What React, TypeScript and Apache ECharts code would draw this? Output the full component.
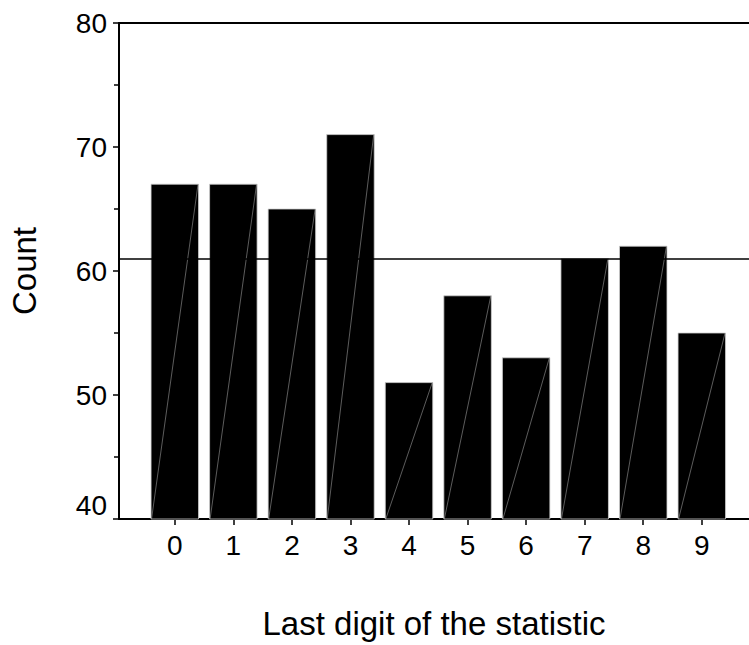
import React, { useEffect, useRef } from "react";
import * as echarts from "echarts";

const digits = [0, 1, 2, 3, 4, 5, 6, 7, 8, 9];
const counts = [67, 67, 65, 71, 51, 58, 53, 61, 62, 55];
const meanCount = 61;
const yTicks = [40, 50, 60, 70, 80];

const FONT = "'Liberation Sans', Arial, sans-serif";

export default function App() {
  const ref = useRef<HTMLDivElement>(null);
  useEffect(() => {
    document.body.style.margin = "0";
    const chart = echarts.init(ref.current!, null, { renderer: "svg" });
    const barW = 47.5;
    chart.setOption({
      animation: false,
      backgroundColor: "#fff",
      textStyle: { fontFamily: FONT, color: "#000" },
      grid: { left: 117, right: 0, top: 23, bottom: 125, containLabel: false },
      xAxis: [
        {
          type: "value",
          min: -0.953,
          max: 9.806,
          position: "bottom",
          name: "Last digit of the statistic",
          nameLocation: "middle",
          nameGap: 88,
          nameTextStyle: { fontSize: 33, color: "#000", fontFamily: FONT },
          axisLine: { show: true, onZero: false, lineStyle: { color: "#000", width: 2 } },
          axisTick: { show: true, length: 6, customValues: digits, lineStyle: { color: "#000", width: 1.5 } },
          axisLabel: {
            show: true,
            customValues: digits,
            fontSize: 28,
            color: "#000",
            margin: 12,
            fontFamily: FONT,
            formatter: (v: number) => String(v),
          },
          splitLine: { show: false },
        },
        {
          type: "value",
          min: -0.953,
          max: 9.806,
          position: "top",
          axisLine: { show: true, onZero: false, lineStyle: { color: "#000", width: 2 } },
          axisTick: { show: false },
          axisLabel: { show: false },
          splitLine: { show: false },
        },
      ],
      yAxis: {
        type: "value",
        min: yTicks[0],
        max: yTicks[yTicks.length - 1],
        interval: 10,
        position: "left",
        name: "Count",
        nameLocation: "middle",
        nameGap: 78,
        nameRotate: 90,
        nameTextStyle: { fontSize: 33, color: "#000", fontFamily: FONT },
        axisLine: { show: true, onZero: false, lineStyle: { color: "#000", width: 2 } },
        axisTick: { show: true, length: 6, lineStyle: { color: "#000", width: 1.5 } },
        minorTick: { show: true, splitNumber: 2, length: 5, lineStyle: { color: "#000", width: 1.5 } },
        axisLabel: {
          fontSize: 28,
          color: "#000",
          margin: 12,
          fontFamily: FONT,
          formatter: (v: number) => (v === yTicks[0] ? `{low|${v}}` : String(v)),
          rich: {
            low: { fontSize: 28, color: "#000", fontFamily: FONT, padding: [0, 0, 28, 0] },
          },
        },
        splitLine: { show: false },
      },
      series: [
        {
          type: "line",
          data: [],
          markLine: {
            silent: true,
            symbol: ["none", "none"],
            label: { show: false },
            lineStyle: { color: "#000", width: 1.5, type: "solid" },
            data: [{ yAxis: meanCount }],
          },
          z: 1,
        },
        {
          type: "custom",
          z: 3,
          data: digits.map((d, i) => [d, counts[i]]),
          renderItem: (params: any, api: any) => {
            const x = api.value(0);
            const v = api.value(1);
            const top = api.coord([x, v]);
            const bottom = api.coord([x, yTicks[0]]);
            const x0 = top[0] - barW / 2;
            const x1 = top[0] + barW / 2;
            return {
              type: "group",
              children: [
                {
                  type: "rect",
                  shape: { x: x0, y: top[1], width: barW, height: bottom[1] - top[1] },
                  style: { fill: "#000", stroke: "#cfcfcf", lineWidth: 0.8 },
                },
                {
                  type: "line",
                  shape: { x1: x0 + 0.5, y1: bottom[1], x2: x1 - 0.5, y2: top[1] },
                  style: { stroke: "#9a9a9a", lineWidth: 0.6 },
                },
              ],
            };
          },
        },
      ],
    });
    return () => chart.dispose();
  }, []);
  return <div ref={ref} style={{ width: 749, height: 645 }} />;
}
